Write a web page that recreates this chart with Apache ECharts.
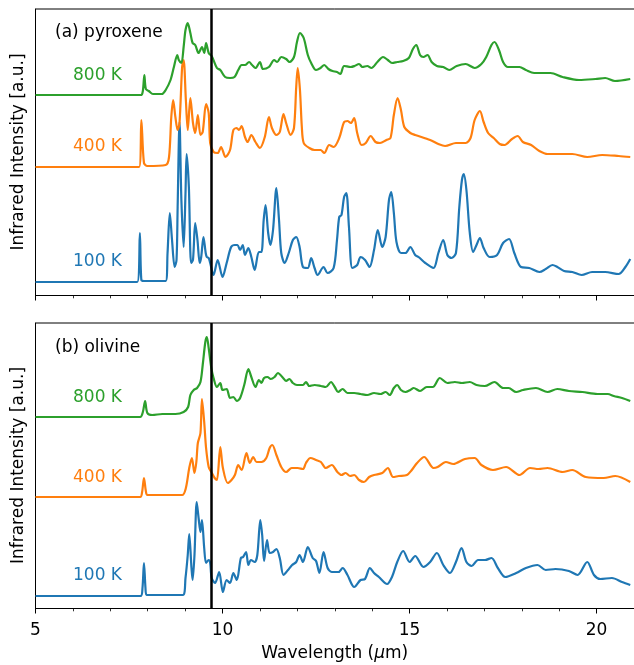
<!DOCTYPE html>
<html>
<head>
<meta charset="utf-8">
<script src="https://cdn.jsdelivr.net/npm/echarts@6/dist/echarts.min.js"></script>
<style>
  html, body { margin: 0; padding: 0; background: #fff; }
  #chart { width: 634px; height: 665px; }
</style>
</head>
<body>
<div id="chart"></div>
<script>
// Simulated infrared spectra, [wavelength (µm), intensity (a.u., offset per temperature)]

// (a) pyroxene
const pyroxene100K = [[5.00,13],[7.72,13],[7.79,62],[7.83,15],[7.90,14],[8.48,14],[8.53,42],[8.59,82],[8.65,55],[8.72,28],[8.77,35],[8.80,88],[8.85,173],[8.90,95],[8.96,48],[9.01,102],[9.04,141],[9.10,108],[9.16,32],[9.21,35],[9.27,72],[9.33,55],[9.39,32],[9.43,38],[9.49,58],[9.55,42],[9.58,38],[9.63,37],[9.67,32],[9.76,20],[9.87,35],[10.00,18],[10.11,32],[10.23,48],[10.33,50],[10.40,50],[10.47,45],[10.54,50],[10.60,40],[10.69,47],[10.77,38],[10.86,25],[10.97,43],[11.04,43],[11.10,75],[11.15,90],[11.22,62],[11.28,50],[11.35,65],[11.44,107],[11.51,75],[11.57,42],[11.66,32],[11.77,42],[11.88,55],[11.97,58],[12.06,48],[12.15,28],[12.28,27],[12.37,37],[12.46,27],[12.54,20],[12.70,28],[12.81,22],[12.97,27],[13.06,55],[13.12,78],[13.18,80],[13.25,98],[13.31,102],[13.38,68],[13.47,27],[13.60,30],[13.69,38],[13.81,35],[13.93,28],[14.05,45],[14.15,65],[14.27,48],[14.36,58],[14.45,95],[14.51,103],[14.58,82],[14.65,53],[14.77,42],[14.89,42],[15.02,48],[15.15,40],[15.24,38],[15.42,32],[15.64,27],[15.77,42],[15.90,55],[16.01,40],[16.12,37],[16.24,42],[16.33,88],[16.40,115],[16.45,121],[16.52,105],[16.61,62],[16.70,43],[16.79,50],[16.88,57],[16.98,47],[17.14,38],[17.34,40],[17.50,52],[17.66,56],[17.80,42],[17.98,28],[18.20,27],[18.47,23],[18.64,26],[18.82,30],[18.95,28],[19.13,24],[19.35,23],[19.60,20],[19.88,23],[20.23,23],[20.59,21],[20.77,28],[20.90,36]];

const pyroxene400K = [[5.00,128],[7.77,128],[7.83,175],[7.90,132],[7.99,129],[8.48,130],[8.57,138],[8.63,178],[8.68,195],[8.74,178],[8.80,165],[8.85,172],[8.92,228],[8.96,235],[9.02,195],[9.07,165],[9.14,197],[9.21,172],[9.27,162],[9.34,180],[9.41,160],[9.47,163],[9.56,191],[9.63,182],[9.67,152],[9.76,143],[9.87,142],[9.96,148],[10.08,138],[10.20,145],[10.29,165],[10.38,167],[10.44,165],[10.51,169],[10.60,158],[10.67,153],[10.77,160],[10.88,153],[11.00,147],[11.13,158],[11.24,178],[11.32,167],[11.44,160],[11.53,163],[11.63,181],[11.70,172],[11.82,160],[11.91,167],[11.97,208],[12.01,227],[12.07,205],[12.12,168],[12.17,152],[12.32,147],[12.46,145],[12.62,145],[12.72,142],[12.85,150],[12.97,148],[13.12,157],[13.25,173],[13.34,174],[13.43,172],[13.52,177],[13.60,162],[13.72,150],[13.83,152],[13.96,159],[14.09,153],[14.21,152],[14.38,155],[14.49,157],[14.58,180],[14.68,197],[14.77,185],[14.86,168],[15.02,162],[15.15,160],[15.55,155],[15.77,151],[15.95,149],[16.24,152],[16.50,152],[16.63,157],[16.74,175],[16.88,184],[16.98,173],[17.10,162],[17.25,157],[17.41,151],[17.54,150],[17.74,156],[17.89,159],[18.03,153],[18.25,150],[18.47,144],[18.69,141],[19.35,141],[19.75,138],[20.15,140],[20.59,139],[20.90,138]];

const pyroxene800K = [[5.00,200],[7.82,200],[7.87,204],[7.91,220],[7.95,206],[8.03,204],[8.14,201],[8.38,201],[8.48,205],[8.61,215],[8.70,228],[8.79,240],[8.83,235],[8.90,232],[8.96,248],[9.01,265],[9.07,272],[9.14,262],[9.20,252],[9.27,250],[9.36,242],[9.45,248],[9.51,242],[9.56,252],[9.63,242],[9.71,239],[9.85,227],[9.94,225],[10.07,218],[10.20,217],[10.32,218],[10.42,225],[10.51,230],[10.60,230],[10.71,233],[10.79,230],[10.88,227],[11.00,233],[11.08,226],[11.24,228],[11.38,235],[11.46,233],[11.57,238],[11.70,236],[11.79,233],[11.91,238],[11.99,253],[12.07,262],[12.17,257],[12.28,240],[12.37,232],[12.50,225],[12.62,227],[12.72,230],[12.83,226],[12.94,224],[13.06,223],[13.15,221],[13.25,229],[13.43,228],[13.53,229],[13.65,231],[13.74,228],[13.87,229],[13.98,227],[14.14,233],[14.29,238],[14.42,235],[14.53,232],[14.67,233],[14.83,234],[14.98,237],[15.09,246],[15.18,250],[15.28,240],[15.37,238],[15.48,240],[15.59,233],[15.73,229],[15.90,228],[16.06,225],[16.26,229],[16.50,231],[16.74,227],[16.92,231],[17.05,238],[17.19,250],[17.27,253],[17.39,245],[17.50,233],[17.63,228],[17.94,228],[18.11,225],[18.33,222],[18.77,222],[19.09,218],[19.53,215],[19.97,216],[20.23,217],[20.49,214],[20.90,216]];

// (b) olivine
const olivine100K = [[5.00,12],[7.81,12],[7.86,20],[7.90,45],[7.94,20],[7.97,13],[8.94,13],[9.01,30],[9.07,53],[9.11,74],[9.17,40],[9.20,28],[9.25,53],[9.31,106],[9.36,90],[9.41,76],[9.45,88],[9.51,60],[9.56,45],[9.63,48],[9.67,45],[9.71,30],[9.80,25],[9.91,36],[10.01,16],[10.11,28],[10.20,25],[10.29,35],[10.38,28],[10.49,50],[10.55,51],[10.63,56],[10.69,43],[10.76,48],[10.86,46],[10.93,53],[11.01,88],[11.06,73],[11.11,47],[11.19,68],[11.26,55],[11.35,56],[11.44,59],[11.53,50],[11.63,33],[11.75,38],[11.86,43],[11.97,46],[12.06,53],[12.15,46],[12.28,61],[12.41,50],[12.50,47],[12.59,35],[12.70,56],[12.81,40],[12.92,36],[13.10,36],[13.21,40],[13.34,33],[13.52,21],[13.69,28],[13.81,29],[13.94,40],[14.05,35],[14.18,31],[14.40,24],[14.53,31],[14.67,46],[14.83,57],[15.00,46],[15.15,52],[15.37,41],[15.55,46],[15.73,55],[15.90,43],[16.08,35],[16.24,46],[16.39,60],[16.52,46],[16.66,42],[16.83,48],[17.02,48],[17.19,50],[17.36,40],[17.56,31],[17.85,35],[18.11,40],[18.42,43],[18.64,38],[18.90,39],[19.26,37],[19.49,33],[19.75,46],[19.93,33],[20.10,29],[20.41,30],[20.68,26],[20.90,23]];

const olivine400K = [[5.00,111],[7.80,111],[7.85,116],[7.90,130],[7.95,117],[7.99,113],[8.92,113],[9.02,120],[9.11,140],[9.18,150],[9.25,135],[9.30,146],[9.34,165],[9.41,175],[9.45,209],[9.51,186],[9.56,160],[9.63,141],[9.70,136],[9.79,130],[9.85,128],[9.94,161],[10.01,140],[10.14,125],[10.24,128],[10.33,133],[10.42,143],[10.51,138],[10.64,155],[10.73,145],[10.82,151],[10.91,146],[11.04,146],[11.17,150],[11.26,160],[11.33,163],[11.44,153],[11.57,141],[11.70,136],[11.85,140],[12.01,140],[12.15,139],[12.23,145],[12.35,150],[12.50,148],[12.63,146],[12.76,140],[12.92,143],[13.07,136],[13.18,133],[13.29,135],[13.41,132],[13.52,133],[13.65,128],[13.78,126],[13.92,131],[14.05,133],[14.27,135],[14.42,140],[14.56,131],[14.71,132],[14.93,133],[15.06,138],[15.20,145],[15.39,151],[15.64,140],[15.75,141],[15.97,146],[16.17,144],[16.48,149],[16.74,150],[16.92,143],[17.23,138],[17.58,141],[17.94,133],[18.22,140],[18.45,139],[18.69,140],[19.09,136],[19.35,138],[19.71,131],[20.19,130],[20.50,132],[20.90,126]];

const olivine800K = [[5.00,191],[7.80,191],[7.87,196],[7.93,207],[7.99,195],[8.12,193],[8.39,194],[8.74,194],[8.96,196],[9.08,201],[9.14,213],[9.23,218],[9.32,220],[9.41,226],[9.47,243],[9.54,266],[9.58,271],[9.63,260],[9.70,240],[9.76,230],[9.85,221],[9.94,225],[10.00,218],[10.11,219],[10.20,210],[10.29,211],[10.38,207],[10.47,210],[10.58,223],[10.69,239],[10.77,231],[10.88,221],[10.97,228],[11.04,225],[11.11,230],[11.20,231],[11.29,229],[11.39,231],[11.48,235],[11.62,230],[11.70,227],[11.79,229],[11.88,225],[11.99,223],[12.15,223],[12.23,226],[12.32,222],[12.46,223],[12.63,222],[12.76,221],[12.90,226],[13.00,221],[13.09,216],[13.21,219],[13.34,215],[13.52,215],[13.69,214],[13.87,213],[14.05,215],[14.22,214],[14.36,216],[14.47,213],[14.58,220],[14.67,223],[14.77,218],[14.89,216],[15.02,218],[15.11,220],[15.28,217],[15.46,221],[15.62,221],[15.81,230],[16.01,225],[16.21,226],[16.40,225],[16.61,226],[16.79,223],[17.01,222],[17.27,226],[17.50,220],[17.65,220],[17.85,216],[18.03,218],[18.38,220],[18.69,216],[18.95,219],[19.26,217],[19.62,216],[20.02,214],[20.30,214],[20.46,212],[20.68,210],[20.90,207]];

const temperatureLabels = ['100 K', '400 K', '800 K'];
const panelTitles = ['(a) pyroxene', '(b) olivine'];
const boundaryWavelength = 9.69;   // vertical reference line
const xMin = 5, xMax = 21, majorStep = 5, minorStep = 1;

const colors = ['#1f77b4', '#ff7f0e', '#2ca02c'];
const FONT = '"DejaVu Sans", sans-serif';
const FS = 17;

const chart = echarts.init(document.getElementById('chart'), null, { renderer: 'canvas' });

const gridLeft = 35.5, gridWidth = 603.7;
const grids = [
  { left: gridLeft, top: 9, width: gridWidth, height: 286 },
  { left: gridLeft, top: 323, width: gridWidth, height: 285 }
];

function xAxisPair(gridIndex, withLabels) {
  return [
    {
      type: 'value', gridIndex, min: xMin, max: xMax, interval: majorStep, position: 'bottom',
      axisLine: { show: true, onZero: false, lineStyle: { color: '#000', width: 1 } },
      axisTick: { show: true, inside: false, length: 5.5, lineStyle: { color: '#000', width: 1 } },
      axisLabel: withLabels ? { show: true, fontSize: FS, fontFamily: FONT, color: '#000', margin: 14, showMaxLabel: false } : { show: false },
      splitLine: { show: false },
      name: withLabels ? '{t|Wavelength (}{i|μ}{t|m)}' : '',
      nameLocation: 'middle', nameGap: 37,
      nameTextStyle: { rich: { t: { fontSize: FS, fontFamily: FONT, color: '#000' }, i: { fontSize: FS, fontFamily: FONT, fontStyle: 'italic', color: '#000' } } }
    },
    {
      type: 'value', gridIndex, min: xMin, max: xMax, interval: minorStep, position: 'bottom',
      axisLine: { show: false, onZero: false },
      axisTick: { show: true, inside: false, length: 3.3, lineStyle: { color: '#000', width: 0.8 } },
      axisLabel: { show: false }, splitLine: { show: false }
    }
  ];
}

function yAxis(gridIndex, max) {
  return {
    type: 'value', gridIndex, min: 0, max,
    axisLine: { show: true, onZero: false, lineStyle: { color: '#000', width: 1 } },
    axisTick: { show: false }, axisLabel: { show: false }, splitLine: { show: false },
    name: 'Infrared Intensity [a.u.]', nameLocation: 'middle', nameGap: 8,
    nameTextStyle: { fontSize: FS, fontFamily: FONT, color: '#000' }
  };
}

function spectrum(data, colorIdx, gridIndex) {
  return {
    type: 'line', data, xAxisIndex: gridIndex * 2, yAxisIndex: gridIndex,
    showSymbol: false, smooth: 0.3, clip: true,
    lineStyle: { color: colors[colorIdx], width: 2.2 },
    emphasis: { disabled: true }, animation: false
  };
}

const series = [
  spectrum(pyroxene100K, 0, 0), spectrum(pyroxene400K, 1, 0), spectrum(pyroxene800K, 2, 0),
  spectrum(olivine100K, 0, 1), spectrum(olivine400K, 1, 1), spectrum(olivine800K, 2, 1)
];
// boundary marker drawn on top of each panel
[2, 5].forEach(i => {
  series[i].markLine = {
    silent: true, symbol: ['none', 'none'], animation: false,
    label: { show: false },
    lineStyle: { color: '#000', width: 2.5, type: 'solid' },
    emphasis: { disabled: true },
    data: [{ xAxis: boundaryWavelength }]
  };
});

// frame top edge of each panel
const frames = grids.map(g => ({
  type: 'line', silent: true,
  shape: { x1: g.left, y1: g.top, x2: 634, y2: g.top },
  style: { stroke: '#000', lineWidth: 1 }
}));

function label(text, x, y, color) {
  return { type: 'text', silent: true, style: { text, x, y, fill: color, fontSize: FS, fontFamily: FONT, align: 'left', verticalAlign: 'middle' } };
}

const labelRows = [
  { title: 33, temps: [262, 147, 76] },
  { title: 348, temps: [576, 478, 398] }
];
const texts = [];
labelRows.forEach((row, p) => {
  texts.push(label(panelTitles[p], 55, row.title, '#000'));
  row.temps.forEach((y, k) => texts.push(label(temperatureLabels[k], 73, y, colors[k])));
});

chart.setOption({
  animation: false,
  backgroundColor: '#fff',
  grid: grids,
  xAxis: [...xAxisPair(0, false), ...xAxisPair(1, true)],
  yAxis: [yAxis(0, 286), yAxis(1, 285)],
  series,
  graphic: [...frames, ...texts]
});
</script>
</body>
</html>
